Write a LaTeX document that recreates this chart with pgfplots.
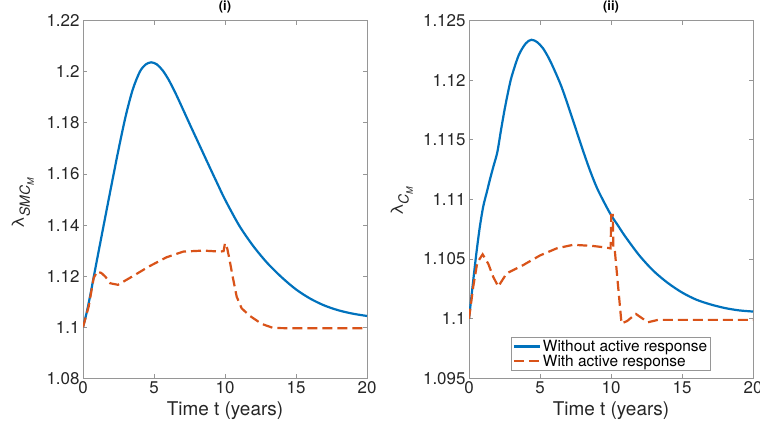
\documentclass[border=0pt]{standalone}
\usepackage{fontspec}
\setmainfont{TeX Gyre Heros}
\usepackage{pgfplots}
\pgfplotsset{compat=1.18}

\definecolor{mblue}{RGB}{0,114,189}
\definecolor{morange}{RGB}{217,83,25}
\definecolor{axgray}{RGB}{150,150,150}
\definecolor{txt}{RGB}{38,38,38}

\pgfplotsset{
  panel/.style={
    scale only axis,
    width=284bp, height=357.6bp,
    xmin=0, xmax=20,
    xtick={0,5,10,15,20},
    tick align=inside,
    major tick length=4bp,
    axis line style={draw=axgray, line width=0.8bp},
    every tick/.style={draw=axgray, line width=0.8bp},
    /pgf/number format/assume math mode=true,
    ticklabel style={font=\fontsize{17}{20}\selectfont, text=txt},
    yticklabel style={/pgf/number format/.cd, fixed, precision=3},
    xticklabel style={/pgf/number format/.cd, fixed},
    xlabel={Time t (years)},
    xlabel style={font=\fontsize{19}{22}\selectfont, text=txt,
      at={(axis description cs:0.5,0)}, anchor=center, yshift=-32bp},
    title style={font=\fontsize{13}{15}\selectfont\bfseries, text=black,
      at={(axis description cs:0.5,1)}, anchor=center, yshift=8bp},
    ylabel style={font=\fontsize{17}{20}\selectfont, text=txt, anchor=center},
    every axis plot/.append style={line width=2.2bp},
  },
  withoutresp/.style={mblue, smooth},
  withresp/.style={morange, dash pattern=on 10bp off 5bp},
}

\begin{document}
\begin{tikzpicture}
\useasboundingbox (0,0) rectangle (760bp,426bp);

% (i) smooth muscle cell growth stretch
\begin{axis}[panel,
  at={(83bp,47.7bp)}, anchor=south west,
  ymin=1.08, ymax=1.22,
  ytick={1.08,1.1,1.12,1.14,1.16,1.18,1.2,1.22},
  title={(i)},
  ylabel={λ\raisebox{-0.35em}{\fontsize{14}{16}\selectfont\itshape SMC\raisebox{-0.3em}{\fontsize{9}{10}\selectfont M}}},
  ylabel style={at={(axis description cs:-0.212,0.49)}},
]
\addplot[withoutresp] coordinates {
  (0,1.1) (0.25,1.1055) (0.5,1.1122) (0.75,1.1195) (1.0,1.1268) (1.5,1.1412)
  (2.0,1.1555) (2.5,1.1695) (3.0,1.1825) (3.5,1.1930) (4.0,1.2000)
  (4.4,1.2028) (4.8,1.2037) (5.2,1.2029) (5.6,1.2006) (6.0,1.1972)
  (6.5,1.1918) (7.0,1.1858) (7.5,1.1797) (8.0,1.1737) (8.5,1.1677)
  (9.0,1.1617) (9.5,1.1558) (10,1.1500) (11,1.1398) (12,1.1317)
  (13,1.1250) (14,1.1195) (15,1.1148) (16,1.1112) (17,1.1085)
  (18,1.1066) (19,1.1053) (20,1.1044)
};
\addplot[withresp] coordinates {
  (0,1.1) (0.4,1.1081) (0.75,1.1192) (0.99,1.1218) (1.3,1.1212) (1.57,1.1198)
  (1.92,1.1172) (2.46,1.1166) (3.45,1.1198) (4.62,1.1237) (5.89,1.1274)
  (7.06,1.1296) (8.47,1.13) (9.65,1.1296) (9.9,1.1298) (10.0,1.1329)
  (10.15,1.1310) (10.3,1.127) (10.54,1.1198) (10.82,1.112) (11.17,1.1074)
  (11.76,1.1044) (12.58,1.1013) (13.4,1.0997) (14.5,1.0996) (20,1.0996)
};
\end{axis}

% (ii) collagen growth stretch
\begin{axis}[panel,
  at={(469bp,47.7bp)}, anchor=south west,
  ymin=1.095, ymax=1.125,
  ytick={1.095,1.1,1.105,1.11,1.115,1.12,1.125},
  title={(ii)},
  ylabel={λ\raisebox{-0.35em}{\fontsize{14}{16}\selectfont\itshape C\raisebox{-0.3em}{\fontsize{9}{10}\selectfont M}}},
  ylabel style={at={(axis description cs:-0.237,0.495)}},
  legend style={at={(axis description cs:0.5,0.0204)}, anchor=south,
    draw=axgray, line width=0.8bp, font=\fontsize{15.5}{18}\selectfont,
    text=black, inner sep=1bp, row sep=-2bp},
  legend cell align=left,
  legend image code/.code={\draw[#1] (0bp,0bp) -- (26bp,0bp);},
]
\addplot[withoutresp] coordinates {
  (0,1.1) (0.25,1.1027) (0.5,1.1053) (0.75,1.1076) (1.0,1.1094) (1.25,1.1106)
  (1.5,1.1118) (1.75,1.1129) (2.0,1.1140) (2.25,1.1158) (2.5,1.1175)
  (2.75,1.1190) (3.0,1.1203) (3.5,1.1221) (4.0,1.1231) (4.4,1.1234)
  (4.8,1.1232) (5.2,1.1227) (5.6,1.1219) (6.0,1.1209) (6.5,1.1195)
  (7.0,1.1178) (7.5,1.1160) (8.0,1.1142) (8.5,1.1125) (9.0,1.1110)
  (9.5,1.1098) (10,1.1087) (10.5,1.1078) (11,1.1069) (12,1.1053)
  (13,1.1040) (14,1.1030) (15,1.1022) (16,1.1016) (17,1.1012)
  (18,1.1009) (19,1.1007) (20,1.1006)
};
\addlegendentry{Without active response}
\addplot[withresp] coordinates {
  (0,1.1) (0.3,1.1027) (0.58,1.1047) (0.96,1.1054) (1.36,1.1046) (1.71,1.1035)
  (2.06,1.1027) (2.65,1.1038) (3.82,1.1045) (4.99,1.1053) (6.17,1.1059)
  (7.34,1.1062) (8.74,1.1061) (9.45,1.106) (9.97,1.1059) (10.02,1.1087)
  (10.12,1.1087) (10.17,1.1058) (10.27,1.1057) (10.74,1.0996) (11.13,1.0998)
  (11.75,1.1004) (12.6,1.0997) (13.3,1.0999) (20,1.0999)
};
\addlegendentry{With active response}
\end{axis}
\end{tikzpicture}
\end{document}
